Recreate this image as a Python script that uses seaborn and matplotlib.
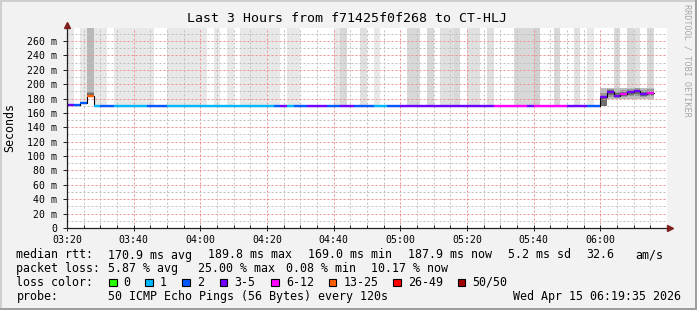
import numpy as np
import pandas as pd
import matplotlib
matplotlib.use("Agg")
import matplotlib.pyplot as plt
import seaborn as sns
from matplotlib.ticker import MultipleLocator, FixedLocator
from matplotlib.patches import Rectangle

# ---------------- data ----------------
title = "Last 3 Hours from f71425f0f268 to CT-HLJ"
y_label = "Seconds"
side_label = "RRDTOOL / TOBI OETIKER"

step_minutes = 2  # one SmokePing step = 120 s
x_tick_minutes = [0, 20, 40, 60, 80, 100, 120, 140, 160]
x_tick_labels = ["03:20", "03:40", "04:00", "04:20", "04:40",
                 "05:00", "05:20", "05:40", "06:00"]
y_ticks = [0, 20, 40, 60, 80, 100, 120, 140, 160, 180, 200, 220, 240, 260]
y_tick_labels = ["0", "20 m", "40 m", "60 m", "80 m", "100 m", "120 m", "140 m",
                 "160 m", "180 m", "200 m", "220 m", "240 m", "260 m"]

prev_median_ms = 180.5
median_ms = [
    171.5, 171.5, 173.4, 184.0, 169.7, 169.6, 169.6, 169.7, 169.6, 169.6,
    169.6, 169.6, 169.7, 169.6, 169.6, 169.6, 169.6, 169.6, 169.6, 169.6,
    169.6, 169.6, 169.6, 169.6, 169.6, 169.6, 169.6, 169.6, 169.6, 169.6,
    169.6, 169.6, 169.7, 169.6, 169.6, 169.6, 169.7, 169.7, 169.7, 169.6,
    169.6, 169.7, 169.7, 169.6, 169.6, 169.6, 169.6, 169.6, 169.6, 169.6,
    169.7, 169.7, 169.7, 169.7, 169.7, 169.7, 169.7, 169.7, 169.7, 169.7,
    169.7, 169.7, 169.7, 169.7, 169.8, 169.8, 169.8, 169.8, 169.8, 169.7,
    169.8, 169.8, 169.8, 169.8, 169.8, 169.7, 169.7, 169.7, 169.6, 169.6,
    181.8, 189.0, 184.0, 186.4, 188.5, 189.8, 186.4, 187.9, np.nan, np.nan,
]
lost_pings = [
    4, 2, 2, 13, 1, 2, 2, 1, 1, 1,
    1, 1, 2, 2, 2, 1, 1, 1, 1, 1,
    1, 1, 1, 1, 1, 1, 1, 1, 1, 1,
    1, 2, 4, 1, 2, 2, 4, 4, 4, 2,
    2, 4, 4, 2, 2, 2, 1, 1, 2, 2,
    4, 4, 4, 4, 4, 4, 4, 4, 4, 4,
    4, 4, 4, 4, 8, 8, 8, 8, 8, 4,
    8, 8, 8, 8, 8, 4, 4, 4, 2, 2,
    4, 4, 4, 8, 4, 4, 4, 8, np.nan, np.nan,
]
# pings per step whose rtt is above the top of the graph (tall smoke)
outlier_pings = [
    1, 0, 1, 7, 1, 1, 0, 1, 1, 1,
    1, 1, 1, 0, 0, 1, 1, 1, 1, 1,
    1, 0, 1, 0, 1, 0, 1, 1, 1, 1,
    1, 1, 0, 1, 1, 0, 0, 0, 0, 0,
    1, 3, 0, 0, 2, 0, 1, 0, 0, 0,
    0, 3, 3, 0, 3, 0, 2, 2, 3, 0,
    2, 2, 0, 2, 0, 0, 0, 3, 3, 3,
    4, 0, 0, 3, 0, 0, 2, 0, 1, 0,
    0, 0, 3, 0, 3, 2, 0, 3, 0, 0,
]
# visible smoke bands around the median
smoke_steps = [3, 80, 81, 82, 83, 84, 85, 86, 87]
smoke_lo = [184.0, 169.5, 180.0, 180.0, 180.0, 180.0, 180.0, 180.0, 180.0]
smoke_hi = [193.0, 195.0, 195.0, 195.0, 195.0, 195.0, 195.0, 195.0, 195.0]
mid_lo = [184.0, 169.6, 182.5, 181.0, 182.0, 183.0, 184.0, 182.0, 183.0]
mid_hi = [190.0, 187.0, 193.5, 191.0, 192.0, 193.0, 194.0, 192.0, 193.0]
core_lo = [184.0, 169.8, 185.5, 181.5, 183.5, 184.5, 186.5, 183.5, 184.5]
core_hi = [187.0, 182.5, 191.5, 187.5, 189.5, 191.0, 192.0, 189.5, 190.5]

loss_labels = ["0", "1", "2", "3-5", "6-12", "13-25", "26-49", "50/50"]
loss_upper = [0, 1, 2, 5, 12, 25, 49, 50]
loss_colors = ["#26ff00", "#00b8ff", "#0059ff", "#7000ff",
               "#ff00ff", "#ff5e00", "#ff0000", "#a10000"]

rtt_pieces = ["median rtt:", "170.9 ms avg", "189.8 ms max", "169.0 ms min",
              "187.9 ms now", "5.2 ms sd", "32.6", "am/s"]
loss_pieces = ["packet loss:", "5.87 % avg", "25.00 % max", "0.08 % min", "10.17 % now"]
color_caption = "loss color:"
probe_pieces = ["probe:", "50 ICMP Echo Pings (56 Bytes) every 120s",
                "Wed Apr 15 06:19:35 2026"]

# ---------------- layout ----------------
W, H = 697, 310
sns.set_theme(style="white")
plt.rcParams["font.family"] = ["DejaVu Sans Mono", "DejaVu Sans"]

fig = plt.figure(figsize=(W / 100, H / 100), dpi=100)
fig.patch.set_facecolor("#f2f2f2")
ax = fig.add_axes([67 / W, 1 - 228 / H, 600 / W, 200 / H])
ax.set_facecolor("white")
Y_TOP = 278.0
ax.set_xlim(0, 180)
ax.set_ylim(0, Y_TOP)
for s in ax.spines.values():
    s.set_visible(False)


def loss_color(n):
    for up, c in zip(loss_upper, loss_colors):
        if n <= up:
            return c
    return loss_colors[-1]


med = np.array(median_ms, dtype=float)
lost = np.array(lost_pings, dtype=float)
outl = np.array(outlier_pings, dtype=float)
starts = np.arange(len(med)) * step_minutes
valid = ~np.isnan(med)

# tall smoke (outliers beyond graph top)
smoke_hi_full = np.full(len(med), np.nan)
smoke_hi_full[smoke_steps] = smoke_hi
tall = valid & (outl > 0)
bottoms = np.where(np.isnan(smoke_hi_full), med, np.fmax(med, smoke_hi_full))
grays = [(max(0, 240 - 8 * n) / 255,) * 3 for n in outl[tall]]
ax.bar(starts[tall], Y_TOP + 20 - bottoms[tall], bottom=bottoms[tall],
       width=step_minutes, align="edge", color=grays, linewidth=0, zorder=1)

# visible smoke bands
sx = starts[smoke_steps]
for lo, hi, col, z in [(smoke_lo, smoke_hi, "#bdbdbd", 1.2),
                       (mid_lo, mid_hi, "#9a9a9a", 1.3),
                       (core_lo, core_hi, "#6e6e6e", 1.4)]:
    ax.bar(sx, np.array(hi) - np.array(lo), bottom=lo, width=step_minutes,
           align="edge", color=col, linewidth=0, zorder=z)

# grid
ax.xaxis.set_major_locator(FixedLocator(x_tick_minutes))
ax.xaxis.set_minor_locator(MultipleLocator(5))
ax.yaxis.set_major_locator(FixedLocator(y_ticks))
ax.yaxis.set_minor_locator(MultipleLocator(10))
ax.set_xticklabels(x_tick_labels)
ax.set_yticklabels(y_tick_labels)
ax.set_axisbelow(False)
ax.grid(which="minor", color="#c0c0c0", linestyle=(0, (2, 2)), linewidth=0.72)
ax.grid(which="major", color="#ee9090", linestyle=(0, (2, 2)), linewidth=0.72)

# median line: black steps + loss-coloured segments
vi = np.where(valid)[0]
line_df = pd.DataFrame({
    "t": np.concatenate([[0.0], starts[vi], [starts[vi[-1]] + step_minutes]]),
    "ms": np.concatenate([[prev_median_ms], med[vi], [med[vi[-1]]]]),
})
sns.lineplot(data=line_df, x="t", y="ms", drawstyle="steps-post", color="black",
             linewidth=0.8, estimator=None, sort=False, ax=ax, zorder=4)
ax.hlines(med[vi], starts[vi], starts[vi] + step_minutes,
          colors=[loss_color(n) for n in lost[vi]], linewidth=1.7,
          zorder=5, capstyle="butt")
ax.set_xlabel("")
ax.set_ylabel("")

# axes lines and arrows
ax.plot([0, 180.6], [0, 0], color="#1f1f1f", lw=0.9, clip_on=False, zorder=6,
        solid_capstyle="butt")
ax.plot([0, 0], [0, 281], color="#1f1f1f", lw=0.9, clip_on=False, zorder=6,
        solid_capstyle="butt")
ax.plot([180.9], [0], marker=">", color="#801f1f", ms=4.5, clip_on=False, zorder=7)
ax.plot([0], [282.5], marker="^", color="#801f1f", ms=4.5, clip_on=False, zorder=7)

ax.tick_params(axis="x", which="major", direction="inout", length=4, width=0.7,
               color="#1f1f1f", pad=3.0, labelsize=7.1, labelcolor="black")
ax.tick_params(axis="x", which="minor", direction="in", length=2, width=0.7,
               color="#1f1f1f")
ax.tick_params(axis="y", which="major", direction="out", length=3, width=0.7,
               color="#1f1f1f", pad=4.2, labelsize=7.1, labelcolor="black")
ax.tick_params(axis="y", which="minor", length=0)
ax.tick_params(bottom=True, left=True, which="both")


# ---------------- texts ----------------
def ftext(x, y, s, **kw):
    kw.setdefault("va", "center")
    kw.setdefault("ha", "left")
    kw.setdefault("fontsize", 8.35)
    kw.setdefault("color", "black")
    fig.text(x / W, 1 - y / H, s, **kw)


ftext(347, 19, title, ha="center", fontsize=9.5)
ftext(10, 127, y_label, ha="center", rotation=90)
ftext(687.5, 60, side_label, ha="center", rotation=270, fontsize=6.1, color="#a8a8a8")

for s, x in zip(rtt_pieces, [16.4, 107.6, 208, 307.6, 408, 508, 585.8, 635.6]):
    ftext(x, 255, s)
for s, x in zip(loss_pieces, [16.4, 107.6, 197.8, 286.4, 371.0]):
    ftext(x, 268.5, s)
ftext(16.4, 282.3, color_caption)
sq_x = [109.0, 145.3, 182.2, 220.0, 271.0, 328.9, 393.3, 457.8]
lb_x = [123.6, 160.0, 197.0, 234.0, 286.7, 343.6, 408.0, 472.4]
for lab, c, sx_, lx in zip(loss_labels, loss_colors, sq_x, lb_x):
    fig.add_artist(Rectangle((sx_ / W, 1 - 286.3 / H), 7.5 / W, 7.8 / H,
                             transform=fig.transFigure, facecolor=c,
                             edgecolor="black", linewidth=0.8))
    ftext(lx, 282.3, lab)
for s, x in zip(probe_pieces, [16.4, 107.6, 513.3]):
    ftext(x, 296.3, s)

# 3D frame
fig.add_artist(Rectangle((0, 1 - 2 / H), 1, 2 / H, transform=fig.transFigure,
                         color="#cfcfcf", lw=0))
fig.add_artist(Rectangle((0, 0), 2 / W, 1, transform=fig.transFigure,
                         color="#cfcfcf", lw=0))
fig.add_artist(Rectangle((0, 0), 1, 2 / H, transform=fig.transFigure,
                         color="#9e9e9e", lw=0))
fig.add_artist(Rectangle((1 - 2 / W, 0), 2 / W, 1, transform=fig.transFigure,
                         color="#9e9e9e", lw=0))

fig.savefig("out.png", dpi=100, facecolor=fig.get_facecolor())
